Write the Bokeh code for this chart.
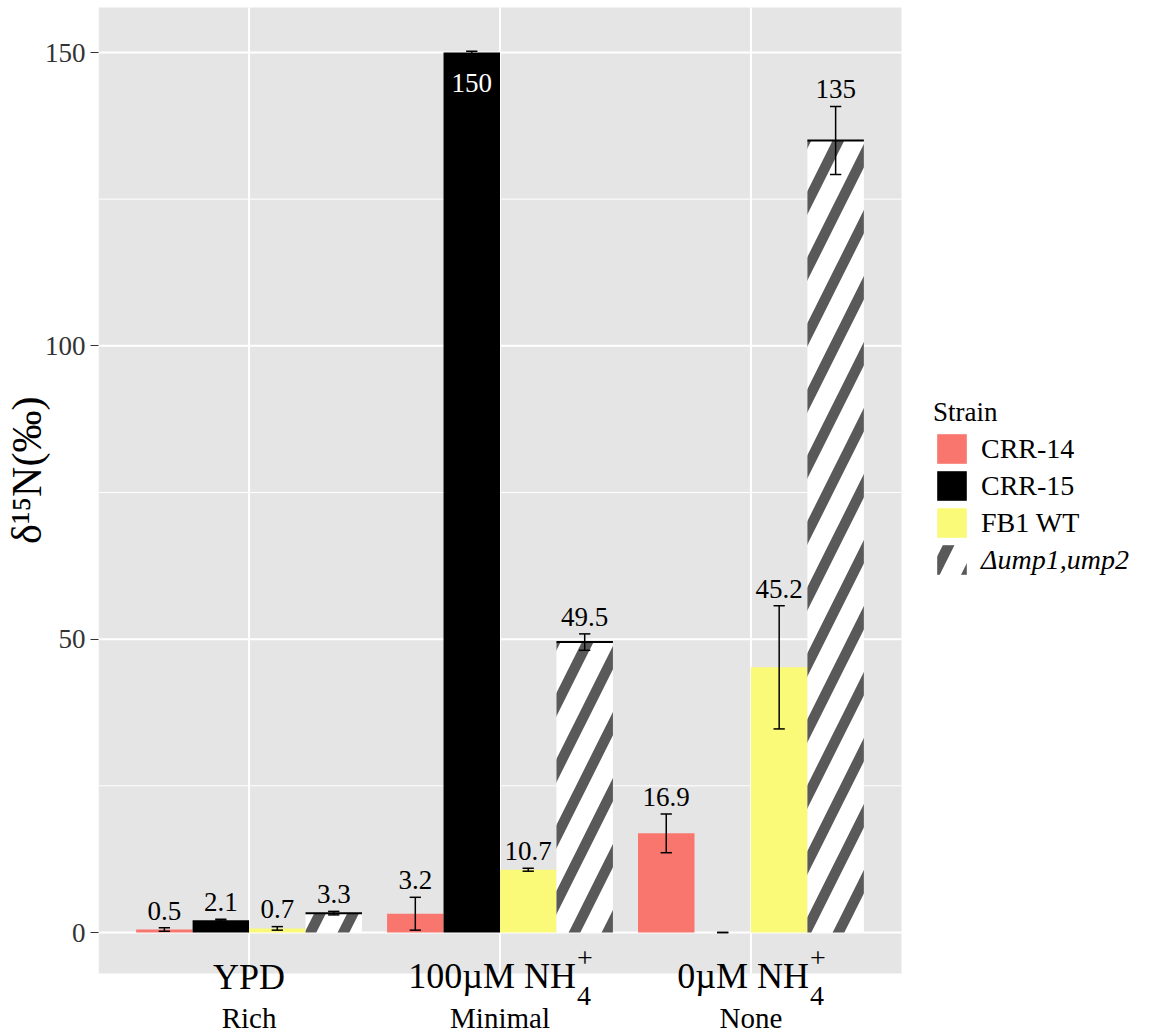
import numpy as np
from bokeh.plotting import figure
from bokeh.models import (ColumnDataSource, Range1d, FixedTicker, Legend, LegendItem)
from bokeh.core.properties import value
from bokeh.embed import file_html
from bokeh.resources import INLINE

# ---------------- data ----------------
categories = ["YPD", "100\u00b5M NH4+", "0\u00b5M NH4+"]
cat_main = ["YPD", "100\u00b5M NH", "0\u00b5M NH"]
cat_sub = ["", "4", "4"]
cat_sup = ["", "+", "+"]
cat_desc = ["Rich", "Minimal", "None"]
strains = ["CRR-14", "CRR-15", "FB1 WT", "\u0394ump1,ump2"]

crr14_mean = [0.5, 3.2, 16.9]
crr14_err = [0.3, 2.8, 3.3]
crr15_mean = [2.1, 150.0, 0.0]
crr15_err = [0.15, 0.2, 0.0]
fb1_mean = [0.7, 10.7, 45.2]
fb1_err = [0.3, 0.25, 10.5]
ump_mean = [3.3, 49.5, 135.0]
ump_err = [0.3, 1.4, 5.8]

y_ticks = [0, 50, 100, 150]
y_minor = [25, 75, 125]
y_title = "\u03b4\u00b9\u2075N(\u2030)"

means = [crr14_mean, crr15_mean, fb1_mean, ump_mean]
errs = [crr14_err, crr15_err, fb1_err, ump_err]

# ---------------- layout ----------------
FONT = "Liberation Serif"
LEFT = 97            # width of the y-axis border
W, H = 1145, 1034    # figure size
FRAME_W = W - LEFT
PANEL_X = (0.4, 3.6)            # ggplot-like discrete expansion
PX_PER_X = 803 / (PANEL_X[1] - PANEL_X[0])
UNITS_PER_PY = 150 / 880.0
Y_TOP = 150 + 52 * UNITS_PER_PY
Y_BOT = Y_TOP - H * UNITS_PER_PY
X_RIGHT = PANEL_X[0] + FRAME_W / PX_PER_X
MID = 0.34   # distance (in em) from alphabetic baseline to the text middle


def dy(py):
    return Y_TOP - py * UNITS_PER_PY


def mid(baseline_py, size):
    return dy(baseline_py - MID * size)


PANEL_Y = (dy(973), dy(7))

fills = ["#F8766D", "#000000", "#FAFA78", "#FFFFFF"]
bar_w = 0.225
offsets = (np.arange(4) - 1.5) * bar_w
centers = np.arange(1, len(categories) + 1)

p = figure(frame_width=FRAME_W, frame_height=H,
           min_border_left=LEFT, min_border_right=0,
           min_border_top=0, min_border_bottom=0,
           x_range=Range1d(PANEL_X[0], X_RIGHT), y_range=Range1d(Y_BOT, Y_TOP),
           x_axis_location=None,
           output_backend="svg", toolbar_location=None)
p.background_fill_color = "white"
p.border_fill_color = "white"
p.outline_line_color = None
p.grid.visible = False

# y axis
p.yaxis.ticker = FixedTicker(ticks=y_ticks)
p.yaxis.axis_line_color = None
p.yaxis.major_tick_line_color = "#333333"
p.yaxis.major_tick_in = 0
p.yaxis.major_tick_out = 8
p.yaxis.minor_tick_line_color = None
p.yaxis.major_label_text_font = FONT
p.yaxis.major_label_text_font_size = "27px"
p.yaxis.major_label_text_color = "#333333"
p.yaxis.major_label_standoff = 5
# leading em-spaces lift the title so that it centres on the panel
p.yaxis.axis_label = "\u2003\u2003\u00a0" + y_title
p.yaxis.axis_label_text_font = FONT
p.yaxis.axis_label_text_font_size = "42px"
p.yaxis.axis_label_text_font_style = "normal"
p.yaxis.axis_label_text_color = "black"
p.yaxis.axis_label_standoff = -8

# panel background and grid
p.quad(left=[PANEL_X[0]], right=[PANEL_X[1]], bottom=[PANEL_Y[0]], top=[PANEL_Y[1]],
       fill_color="#E5E5E5", line_color=None)
p.segment(x0=[PANEL_X[0]] * len(y_minor), x1=[PANEL_X[1]] * len(y_minor),
          y0=y_minor, y1=y_minor, line_color="white", line_width=1)
p.segment(x0=[PANEL_X[0]] * len(y_ticks), x1=[PANEL_X[1]] * len(y_ticks),
          y0=y_ticks, y1=y_ticks, line_color="white", line_width=2)
p.segment(x0=list(centers), x1=list(centers),
          y0=[PANEL_Y[0]] * len(centers), y1=[PANEL_Y[1]] * len(centers),
          line_color="white", line_width=2)

VAL_PX = 27
renderers = []
for i, s in enumerate(strains):
    xs = centers + offsets[i]
    m = np.array(means[i])
    e = np.array(errs[i])
    src = ColumnDataSource(dict(x=xs, top=m, lo=m - e, hi=m + e,
                                cl=xs - bar_w * 0.1, cr=xs + bar_w * 0.1,
                                bl=xs - bar_w / 2, br=xs + bar_w / 2))
    if i == 3:
        r = p.vbar(x="x", top="top", bottom=0, width=bar_w, source=src,
                   fill_color=fills[i], line_color=None,
                   hatch_pattern="/", hatch_color="#595959",
                   hatch_weight=10.5, hatch_scale=66)
        p.segment(x0="bl", x1="br", y0="top", y1="top", source=src,
                  line_color="black", line_width=2)
    else:
        r = p.vbar(x="x", top="top", bottom=0, width=bar_w, source=src,
                   fill_color=fills[i], line_color=None)
    renderers.append(r)
    # error bars
    p.segment(x0="x", x1="x", y0="lo", y1="hi", source=src,
              line_color="black", line_width=1.5)
    p.segment(x0="cl", x1="cr", y0="hi", y1="hi", source=src,
              line_color="black", line_width=1.5)
    p.segment(x0="cl", x1="cr", y0="lo", y1="lo", source=src,
              line_color="black", line_width=1.5)

    # value labels
    out_x, out_y, out_t, in_x, in_y, in_t = [], [], [], [], [], []
    for x, mv, ev in zip(xs, m, e):
        if mv == 0:
            continue
        t = f"{mv:g}"
        if mv > 0.93 * PANEL_Y[1]:
            in_x.append(x); in_y.append(mv); in_t.append(t)
        else:
            out_x.append(x); out_y.append(mv + ev); out_t.append(t)
    if out_x:
        p.text(x=out_x, y=out_y, text=out_t, text_align="center",
               text_baseline="middle", y_offset=-(8 + MID * VAL_PX),
               text_font=value(FONT), text_font_size=f"{VAL_PX}px", text_color="black")
    if in_x:
        p.text(x=in_x, y=in_y, text=in_t, text_align="center",
               text_baseline="middle", y_offset=40 - MID * VAL_PX,
               text_font=value(FONT), text_font_size=f"{VAL_PX}px", text_color="white")

# ---------------- category labels ----------------
TW = {"0": .5, "1": .5, "4": .5, "\u00b5": .576, "M": .889, " ": .25, "N": .722,
      "H": .722, "Y": .722, "P": .556, "D": .722, "+": .564}
MAIN_PX, SCRIPT_PX, DESC_PX = 36, 28, 29
plain_x, plain_t, main_x, main_t, scr_x, sub_t, sup_t = [], [], [], [], [], [], []
for c, mtxt, sb, sp in zip(centers, cat_main, cat_sub, cat_sup):
    if sb:
        wm = sum(TW.get(ch, .5) for ch in mtxt) * MAIN_PX
        ws = max(sum(TW.get(ch, .5) for ch in sb), sum(TW.get(ch, .5) for ch in sp)) * SCRIPT_PX
        right = c + ((wm - ws) / 2) / PX_PER_X
        main_x.append(right); main_t.append(mtxt)
        scr_x.append(right + 1 / PX_PER_X); sub_t.append(sb); sup_t.append(sp)
    else:
        plain_x.append(c); plain_t.append(mtxt)

common = dict(text_baseline="middle", text_font=value(FONT), text_color="black")
p.text(x=plain_x, y=[mid(989, MAIN_PX)] * len(plain_x), text=plain_t, text_align="center",
       text_font_size=f"{MAIN_PX}px", **common)
p.text(x=main_x, y=[mid(988, MAIN_PX)] * len(main_x), text=main_t, text_align="right",
       text_font_size=f"{MAIN_PX}px", **common)
p.text(x=scr_x, y=[mid(1005, SCRIPT_PX)] * len(scr_x), text=sub_t, text_align="left",
       text_font_size=f"{SCRIPT_PX}px", **common)
p.text(x=scr_x, y=[mid(967, SCRIPT_PX)] * len(scr_x), text=sup_t, text_align="left",
       text_font_size=f"{SCRIPT_PX}px", **common)
p.text(x=list(centers), y=[mid(1027, DESC_PX)] * len(centers), text=cat_desc,
       text_align="center", text_font_size=f"{DESC_PX}px", **common)

# ---------------- legends ----------------
def style_legend(lg):
    lg.padding = 0
    lg.margin = 0
    lg.spacing = 0
    lg.glyph_width = 37
    lg.glyph_height = 37
    lg.label_height = 37
    lg.label_standoff = 11
    lg.label_text_font = FONT
    lg.label_text_font_size = "28px"
    lg.label_text_color = "black"
    lg.label_text_baseline = "middle"
    lg.background_fill_alpha = 0
    lg.border_line_alpha = 0


KEY_X = 932 - LEFT
leg1 = Legend(items=[LegendItem(label=strains[i], renderers=[renderers[i]]) for i in range(3)],
              location=(KEY_X, H - 541), title="Strain")
style_legend(leg1)
leg1.title_text_font = FONT
leg1.title_text_font_size = "27px"
leg1.title_text_font_style = "normal"
leg1.title_text_color = "black"
leg1.title_standoff = 2
leg2 = Legend(items=[LegendItem(label=strains[3], renderers=[renderers[3]])],
              location=(KEY_X, H - 578))
style_legend(leg2)
leg2.label_text_font_style = "italic"
p.add_layout(leg1)
p.add_layout(leg2)

open("out.html", "w").write(file_html(p, INLINE))
